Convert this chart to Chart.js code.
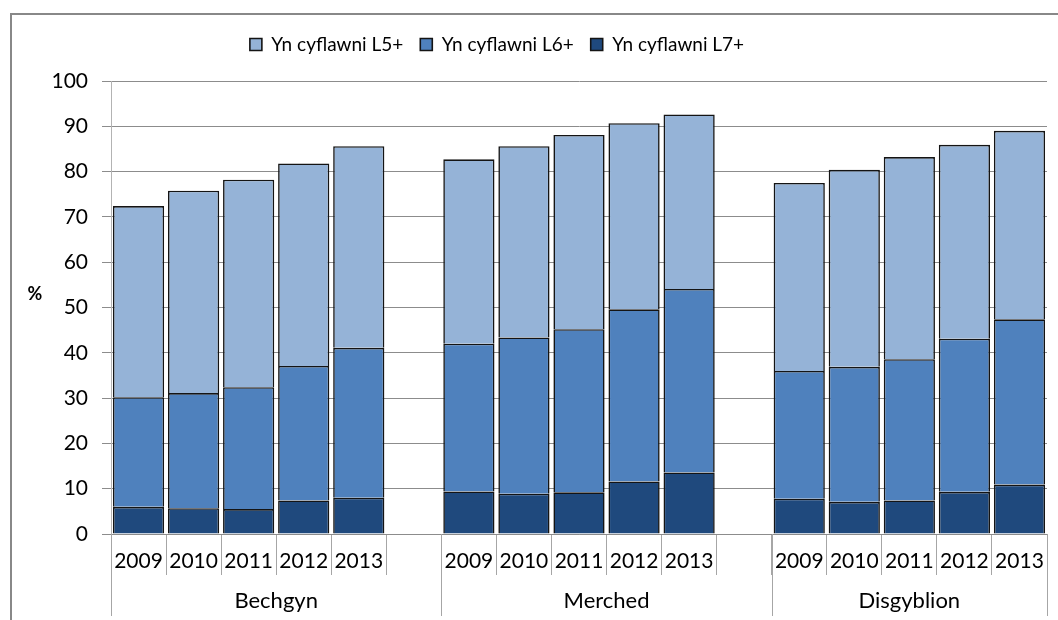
<!DOCTYPE html>
<html lang="cy">
<head>
    <meta charset="UTF-8">
    <title>Yn cyflawni L5+, L6+ a L7+</title>
    <script src="https://cdn.jsdelivr.net/npm/chart.js"></script>
    <style>
        html, body { margin: 0; padding: 0; background: #fff; overflow: hidden; }
        #wrap { position: relative; width: 1058px; height: 620px; }
        #frame { position: absolute; left: 10px; top: 13px; width: 1100px; height: 700px; border: 2px solid #888; }
        #grafico { position: absolute; left: 0; top: 0; }
    </style>
</head>
<body>
<div id="wrap">
    <div id="frame"></div>
    <canvas id="grafico" width="1058" height="620"></canvas>
</div>

<script>
    // Categorïau
    const groups = ['Bechgyn', 'Merched', 'Disgyblion'];
    const years = ['2009', '2010', '2011', '2012', '2013'];
    const seriesNames = ['Yn cyflawni L5+', 'Yn cyflawni L6+', 'Yn cyflawni L7+'];
    const colours = ['#95b3d7', '#4f81bd', '#1f497d'];
    const yTicks = [0, 10, 20, 30, 40, 50, 60, 70, 80, 90, 100];

    // % yn cyflawni, un rhes i bob grŵp (Bechgyn, Merched, Disgyblion)
    const l5 = [
        [72.4, 75.8, 78.2, 81.8, 85.6],
        [82.7, 85.6, 88.1, 90.7, 92.6],
        [77.5, 80.4, 83.2, 85.9, 89.0]
    ];
    const l6 = [
        [30.2, 31.1, 32.4, 37.1, 41.1],
        [42.0, 43.4, 45.2, 49.6, 54.1],
        [36.0, 36.9, 38.6, 43.1, 47.4]
    ];
    const l7 = [
        [6.0, 5.7, 5.5, 7.4, 8.0],
        [9.4, 8.9, 9.2, 11.6, 13.6],
        [7.8, 7.1, 7.4, 9.3, 10.9]
    ];

    // labeli'r echel x, gyda bwlch gwag rhwng y grwpiau
    const labels = [];
    const groupEdges = [];
    groups.forEach((g, gi) => {
        groupEdges.push(labels.length);
        years.forEach(y => labels.push(y));
        if (gi < groups.length - 1) labels.push('');
    });
    groupEdges.push(labels.length);

    function flat(rows) {
        const out = [];
        rows.forEach((row, gi) => {
            row.forEach(v => out.push(v));
            if (gi < rows.length - 1) out.push(null);
        });
        return out;
    }
    const top7 = flat(l7);
    const top6 = flat(l6);
    const top5 = flat(l5);
    // darnau'r pentwr: L7, L6 - L7, L5 - L6
    const seg7 = top7;
    const seg6 = top6.map((v, i) => v === null ? null : +(v - top7[i]).toFixed(1));
    const seg5 = top5.map((v, i) => v === null ? null : +(v - top6[i]).toFixed(1));

    const FONT = 'Lato, "DejaVu Sans", sans-serif';

    // mwy o le o dan yr allwedd, a'i symud ychydig i'r chwith
    const legendSpace = {
        id: 'legendSpace',
        beforeInit(chart) {
            const fit = chart.legend.fit;
            chart.legend.fit = function () {
                fit.call(this);
                this.height = 63;
            };
        },
        afterLayout(chart) {
            const lg = chart.legend;
            const shift = 497 - (lg.left + lg.right) / 2;
            lg.left += shift;
            lg.right += shift;
        }
    };

    // llinellau'r grwpiau, enwau'r grwpiau a'r "%"
    const extras = {
        id: 'extras',
        afterDraw(chart) {
            const ctx = chart.ctx;
            const x = chart.scales.x;
            const slot = x.width / labels.length;
            const bottom = chart.chartArea.bottom;
            ctx.save();
            ctx.strokeStyle = '#a6a6a6';
            ctx.lineWidth = 1;
            groupEdges.forEach(e => {
                const px = Math.round(x.left + e * slot) + 0.5;
                ctx.beginPath();
                ctx.moveTo(px, bottom);
                ctx.lineTo(px, 616);
                ctx.stroke();
            });
            ctx.fillStyle = '#000';
            ctx.font = '22px ' + FONT;
            ctx.textAlign = 'center';
            ctx.textBaseline = 'middle';
            groups.forEach((g, gi) => {
                const mid = x.left + (groupEdges[gi] + groupEdges[gi + 1]) / 2 * slot;
                ctx.fillText(g, mid, 601);
            });
            ctx.font = 'bold 18px ' + FONT;
            ctx.fillText('%', 35, 294);
            ctx.restore();
        }
    };

    const ctx = document.getElementById('grafico').getContext('2d');
    const chart = new Chart(ctx, {
        type: 'bar',
        data: {
            labels: labels,
            datasets: [{
                label: seriesNames[2],
                data: seg7,
                backgroundColor: colours[2],
                borderColor: '#141414',
                borderWidth: 1.6
            }, {
                label: seriesNames[1],
                data: seg6,
                backgroundColor: colours[1],
                borderColor: '#141414',
                borderWidth: 1.6
            }, {
                label: seriesNames[0],
                data: seg5,
                backgroundColor: colours[0],
                borderColor: '#141414',
                borderWidth: 1.6
            }]
        },
        options: {
            responsive: false,
            animation: false,
            layout: { padding: { top: 18, left: 0, right: 11, bottom: 0 } },
            datasets: { bar: { categoryPercentage: 1, barPercentage: 0.93 } },
            plugins: {
                tooltip: { enabled: false },
                legend: {
                    reverse: true,
                    labels: {
                        boxWidth: 12,
                        boxHeight: 12,
                        padding: 17,
                        color: '#000',
                        font: { family: FONT, size: 19 }
                    }
                }
            },
            scales: {
                x: {
                    stacked: true,
                    grid: { offset: true, drawOnChartArea: false, tickLength: 41, color: '#a6a6a6' },
                    border: { color: '#8c8c8c' },
                    ticks: { padding: -26, color: '#000', font: { family: FONT, size: 21 }, maxRotation: 0, autoSkip: false },
                    afterFit(scale) { scale.height = 86; }
                },
                y: {
                    stacked: true,
                    min: 0,
                    max: 100,
                    afterBuildTicks(scale) { scale.ticks = yTicks.map(v => ({ value: v })); },
                    grid: { color: '#8c8c8c', tickLength: 9 },
                    border: { color: '#b3b3b3' },
                    ticks: { padding: 14, color: '#000', font: { family: FONT, size: 21 } },
                    afterFit(scale) { scale.width = 111; }
                }
            }
        },
        plugins: [legendSpace, extras]
    });
</script>
</body>
</html>
